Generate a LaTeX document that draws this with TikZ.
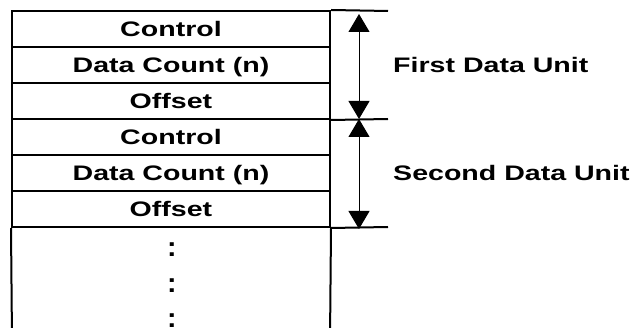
\documentclass[tikz,border=0pt]{standalone}
\usepackage{fontspec}
\usepackage{graphicx}
\setmainfont{Liberation Sans}
\usetikzlibrary{arrows.meta}
\newcommand{\wide}[1]{\scalebox{1.36}[1]{#1}}
\tikzset{
  rowbox/.style={draw, line width=2pt, minimum width=318pt, minimum height=36pt, inner sep=0pt},
  lbl/.style={font=\fontsize{21}{25}\selectfont\bfseries, inner sep=0pt, anchor=base},
  tbl/.style={line width=2pt},
  span/.style={line width=1pt, {Triangle[width=21pt,length=18pt]}-{Triangle[width=21pt,length=18pt]}}
}
\begin{document}
\begin{tikzpicture}[x=1pt,y=-1pt]
\useasboundingbox (0,0) rectangle (634,328);
\clip (0,0) rectangle (634,328);
% table rows
\node[rowbox] (r1) at (171,29) {};
\node[rowbox] (r2) at (171,65) {};
\node[rowbox] (r3) at (171,101) {};
\node[rowbox] (r4) at (171,137) {};
\node[rowbox] (r5) at (171,173) {};
\node[rowbox] (r6) at (171,209) {};
\node[lbl] (t1) at (171,36.5) {\wide{Control}};
\node[lbl] (t2) at (171,72.5) {\wide{Data Count (n)}};
\node[lbl] (t3) at (171,108.5) {\wide{Offset}};
\node[lbl] (t4) at (171,144.5) {\wide{Control}};
\node[lbl] (t5) at (171,180.5) {\wide{Data Count (n)}};
\node[lbl] (t6) at (171,216.5) {\wide{Offset}};
% continuation
\coordinate (bl) at (12,340);
\coordinate (br) at (330,340);
\draw[tbl] (r6.south west) -- (bl);
\draw[tbl] (r6.south east) -- (br);
\node[lbl] (d1) at (172,256.5) {\scalebox{1.36}[1.3]{:}};
\node[lbl] (d2) at (172,292.5) {\scalebox{1.36}[1.3]{:}};
\node[lbl] (d3) at (172,327.6) {\scalebox{1.36}[1.3]{:}};
% extended lines
\coordinate (e1) at (388,11);
\coordinate (e2) at (388,119);
\coordinate (e3) at (388,227);
\draw[tbl] (r1.north east) -- (e1);
\draw[tbl] (r3.south east) -- (e2);
\draw[tbl] (r6.south east) -- (e3);
% span arrows
\coordinate (a1) at (359,14);
\coordinate (a2) at (359,119);
\coordinate (a3) at (359,229);
\draw[span] (a1) -- (a2);
\draw[span] (a2) -- (a3);
\node[lbl, anchor=base west] (u1) at (393,73) {\wide{First Data Unit}};
\node[lbl, anchor=base west] (u2) at (393,181) {\wide{Second Data Unit}};
\end{tikzpicture}
\end{document}
